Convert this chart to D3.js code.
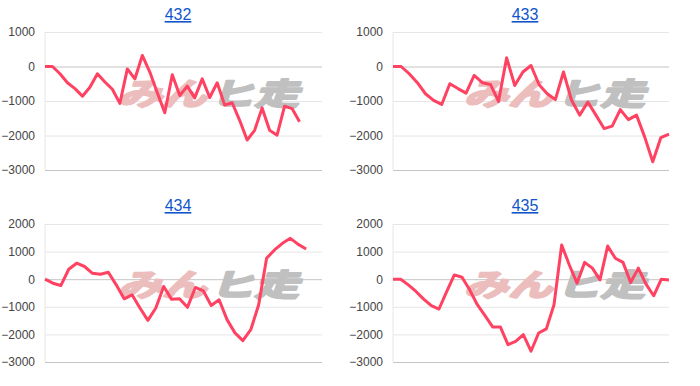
<!DOCTYPE html>
<html>
<head>
<meta charset="utf-8">
<script src="https://cdn.jsdelivr.net/npm/d3@7"></script>
<style>
  body { margin: 0; background: #fff; }
  svg { display: block; font-family: Arial, "Liberation Sans", sans-serif; }
</style>
</head>
<body>
<div id="chart"></div>
<script>
// machine numbers and their slot counts on the x axis
var titles = ["432", "433", "434", "435"];
var slots = [38, 35, 36, 37];

// cumulative difference per day
var values432 = [0, 0, -210, -470, -640, -860, -600, -210, -450, -660, -1070, -70, -360, 320, -160, -760, -1340,
  -240, -840, -570, -910, -360, -900, -470, -1120, -1050, -1560, -2130, -1850, -1200, -1850, -1990, -1150, -1220, -1600];
var values433 = [0, 0, -210, -470, -790, -980, -1100, -500, -640, -770, -260, -470, -520, -1010, 250, -550, -160,
  30, -530, -790, -960, -160, -980, -1410, -1030, -1410, -1800, -1730, -1250, -1540, -1410, -2040, -2760, -2060, -1960];
var values434 = [0, -145, -230, 360, 580, 460, 215, 180, 250, -205, -710, -565, -1045, -1490, -1045, -265, -730,
  -710, -1020, -300, -420, -950, -745, -1465, -1945, -2225, -1830, -925, 760, 1060, 1300, 1480, 1260, 1095];
var values435 = [0, 0, -205, -445, -720, -960, -1080, -450, 155, 70, -385, -925, -1320, -1730, -1730, -2370, -2250,
  -2010, -2610, -1950, -1800, -925, 1240, 515, -145, 610, 400, -25, 1200, 760, 610, -120, 400, -180, -600, 0, -25];

var ticksTop = [1000, 0, -1000, -2000, -3000];
var ticksBottom = [2000, 1000, 0, -1000, -2000, -3000];

var W = 700, H = 386;
var svg = d3.select("#chart").append("svg")
  .attr("width", W)
  .attr("height", H);

var panels = [
  {title: titles[0], n: slots[0], data: values432, ticks: ticksTop,    x0: 45,  x1: 322, y0: 32,  y1: 170, tx: 178, ty: 20,  wx: 118, wy: 105},
  {title: titles[1], n: slots[1], data: values433, ticks: ticksTop,    x0: 393, x1: 669, y0: 32,  y1: 170, tx: 525, ty: 20,  wx: 464, wy: 105},
  {title: titles[2], n: slots[2], data: values434, ticks: ticksBottom, x0: 45,  x1: 322, y0: 224, y1: 362, tx: 178, ty: 211, wx: 118, wy: 296},
  {title: titles[3], n: slots[3], data: values435, ticks: ticksBottom, x0: 393, x1: 669, y0: 224, y1: 362, tx: 525, ty: 211, wx: 464, wy: 296}
];

panels.forEach(function(p) {
  var g = svg.append("g");

  var x = d3.scaleLinear()
    .domain([0, p.n - 1])
    .range([p.x0, p.x1]);
  var y = d3.scaleLinear()
    .domain([d3.min(p.ticks), d3.max(p.ticks)])
    .range([p.y1, p.y0]);

  // title (a link in the original page)
  g.append("text")
    .attr("x", p.tx)
    .attr("y", p.ty)
    .attr("text-anchor", "middle")
    .style("font-size", "16px")
    .style("fill", "#1155cc")
    .style("text-decoration", "underline")
    .text(p.title);

  // gridlines and tick labels
  var yAxis = d3.axisLeft(y)
    .tickValues(p.ticks)
    .tickSize(-(p.x1 - p.x0))
    .tickPadding(10)
    .tickFormat(d3.format("d"));
  var ax = g.append("g")
    .attr("transform", "translate(" + p.x0 + ",0)")
    .call(yAxis);
  ax.select(".domain").remove();
  ax.selectAll(".tick line")
    .attr("stroke", function(d) { return (d === 0 || d === d3.min(p.ticks)) ? "#c4c4c4" : "#e6e6e6"; });
  ax.selectAll(".tick text")
    .style("font-size", "12px")
    .style("font-family", "Arial, 'Liberation Sans', sans-serif")
    .attr("fill", "#444");

  // left axis line
  g.append("line")
    .attr("x1", p.x0).attr("x2", p.x0)
    .attr("y1", p.y0).attr("y2", p.y1)
    .attr("stroke", "#e6e6e6");

  // watermark
  var wm = g.append("text")
    .attr("transform", "translate(" + p.wx + "," + p.wy + ") skewX(-18) scale(1.3,0.9)")
    .style("font-family", "'Noto Sans CJK JP', sans-serif")
    .style("font-size", "34px")
    .style("font-weight", "bold")
    .attr("stroke-width", 2.5)
    .attr("stroke-linejoin", "round");
  wm.append("tspan").attr("fill", "#ecbdbd").attr("stroke", "#ecbdbd").text("みん");
  wm.append("tspan").attr("fill", "#c0c0c0").attr("stroke", "#c0c0c0").attr("dx", 3).text("ヒ走");

  // series line
  var line = d3.line()
    .x(function(d, i) { return x(i); })
    .y(function(d) { return y(d); });
  g.append("path")
    .datum(p.data)
    .attr("fill", "none")
    .attr("stroke", "#ff4162")
    .attr("stroke-width", 3)
    .attr("stroke-linejoin", "round")
    .attr("d", line);
});
</script>
</body>
</html>
